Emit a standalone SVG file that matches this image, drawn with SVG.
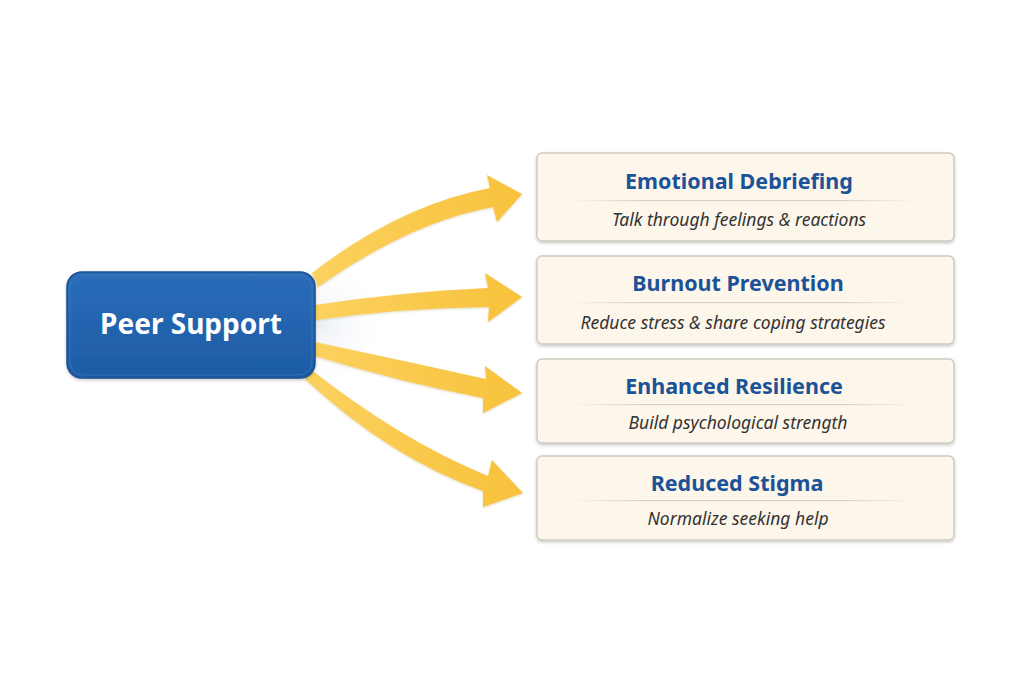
<svg xmlns="http://www.w3.org/2000/svg" width="1024" height="683" viewBox="0 0 1024 683">
<defs>
<linearGradient id="blue" x1="0" y1="0" x2="0" y2="1">
<stop offset="0" stop-color="#2a6cb8"/>
<stop offset="1" stop-color="#1d5ca6"/>
</linearGradient>
<linearGradient id="arr" x1="0" y1="0" x2="1" y2="0">
<stop offset="0" stop-color="#fbd15e"/>
<stop offset="1" stop-color="#f8c23c"/>
</linearGradient>
<radialGradient id="glow" cx="0.5" cy="0.5" r="0.5">
<stop offset="0" stop-color="#e9eef5" stop-opacity="0.9"/>
<stop offset="1" stop-color="#ffffff" stop-opacity="0"/>
</radialGradient>
<filter id="sh" x="-10%" y="-10%" width="120%" height="130%">
<feDropShadow dx="0" dy="1.5" stdDeviation="1.5" flood-color="#000" flood-opacity="0.22"/>
</filter>
<filter id="ash" x="-10%" y="-10%" width="120%" height="130%">
<feDropShadow dx="0" dy="1" stdDeviation="1" flood-color="#8a6a10" flood-opacity="0.25"/>
</filter>
<linearGradient id="div" x1="0" y1="0" x2="1" y2="0">
<stop offset="0" stop-color="#d9d3c6" stop-opacity="0"/>
<stop offset="0.2" stop-color="#d9d3c6"/>
<stop offset="0.8" stop-color="#d9d3c6"/>
<stop offset="1" stop-color="#d9d3c6" stop-opacity="0"/>
</linearGradient>
</defs>
<style>
.card{fill:#fdf6ea;stroke:#cfcac2;stroke-width:1.5}
.title{font-family:"Noto Sans","Open Sans",sans-serif;font-weight:700;font-size:21.5px;fill:#1c5297;text-anchor:middle}
.sub{font-family:"Noto Sans","Open Sans",sans-serif;font-style:italic;font-size:17.5px;fill:#333333;text-anchor:middle}
.arrow{fill:url(#arr)}
</style>
<rect width="1024" height="683" fill="#ffffff"/>
<ellipse cx="320" cy="325" rx="70" ry="70" fill="url(#glow)"/>
<g id="connectors" filter="url(#ash)">
<path class="arrow" d="M312,273 Q400,205 490,188 L487,175 L522,194 L497,222 L493,207 Q410,222 318,287 Z"/>
<path class="arrow" d="M315,305 Q400,292 488,288 L485,273 L522,297 L488,322 L489,307 Q400,308 315,320 Z"/>
<path class="arrow" d="M315,342 Q400,360 486,379 L485,366 L522,393 L483,413 L483,398 Q400,382 315,356 Z"/>
<path class="arrow" d="M309,368 Q400,440 488,476 L492,460 L523,493 L483,507 L483,491 Q390,458 305,379 Z"/>
</g>
<g id="peer-support">
<rect x="67" y="272" width="248" height="106" rx="15" fill="url(#blue)" stroke="#1a4f8f" stroke-width="1.5" filter="url(#sh)"/>
<rect x="70" y="275" width="242" height="100" rx="13" fill="none" stroke="#4a86c8" stroke-opacity="0.5" stroke-width="1"/>
<text x="191" y="334" font-family="Noto Sans,Open Sans,sans-serif" font-weight="700" font-size="28" fill="#ffffff" text-anchor="middle">Peer Support</text>
</g>
<g id="emotional-debriefing">
<rect class="card" x="537" y="153" width="417" height="88" rx="5" filter="url(#sh)"/>
<text class="title" x="739" y="189">Emotional Debriefing</text>
<rect x="570" y="200" width="345" height="1.2" fill="url(#div)"/>
<text class="sub" x="739" y="226">Talk through feelings &amp; reactions</text>
</g>
<g id="burnout-prevention">
<rect class="card" x="537" y="256" width="417" height="88" rx="5" filter="url(#sh)"/>
<text class="title" x="738" y="291">Burnout Prevention</text>
<rect x="570" y="302" width="345" height="1.2" fill="url(#div)"/>
<text class="sub" x="733" y="329">Reduce stress &amp; share coping strategies</text>
</g>
<g id="enhanced-resilience">
<rect class="card" x="537" y="359" width="417" height="84" rx="5" filter="url(#sh)"/>
<text class="title" x="734" y="394">Enhanced Resilience</text>
<rect x="570" y="404" width="345" height="1.2" fill="url(#div)"/>
<text class="sub" x="738" y="429">Build psychological strength</text>
</g>
<g id="reduced-stigma">
<rect class="card" x="537" y="456" width="417" height="84" rx="5" filter="url(#sh)"/>
<text class="title" x="737" y="491">Reduced Stigma</text>
<rect x="570" y="500" width="345" height="1.2" fill="url(#div)"/>
<text class="sub" x="738" y="525">Normalize seeking help</text>
</g>
</svg>
